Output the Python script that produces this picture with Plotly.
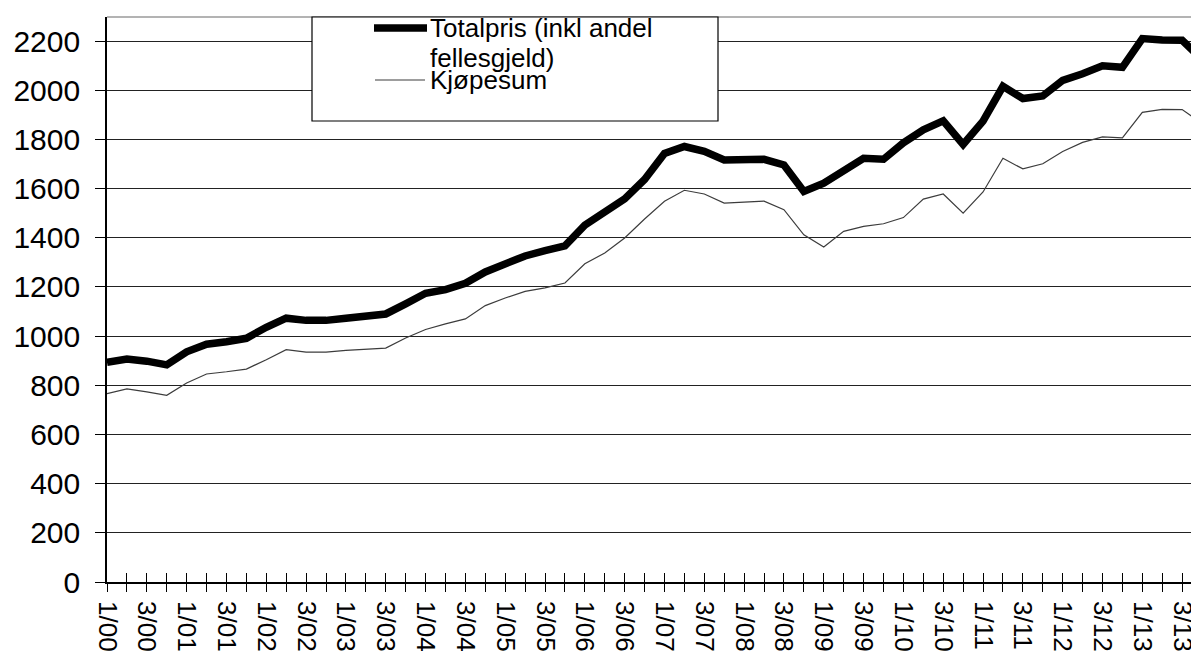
import plotly.graph_objects as go

# Quarter categories 1/00 ... 4/13
years = [f"{y:02d}" for y in range(0, 14)]
quarters = [f"{q}/{y}" for y in years for q in (1, 2, 3, 4)]

totalpris = [893, 907, 898, 883, 936, 967, 977, 991, 1036, 1073, 1064, 1064,
             1073, 1079, 1090, 1131, 1174, 1189, 1215, 1261, 1296, 1326, 1348, 1367,
             1451, 1509, 1558, 1637, 1743, 1771, 1751, 1716, 1719, 1719, 1696, 1588,
             1622, 1673, 1723, 1719, 1786, 1839, 1875, 1779, 1874, 2016, 1966, 1977,
             2040, 2067, 2099, 2093, 2210, 2204, 2203, 2126]
kjopesum = [766, 785, 773, 759, 809, 846, 855, 866, 904, 945, 935, 935,
            942, 946, 951, 992, 1027, 1050, 1070, 1124, 1155, 1182, 1196, 1216,
            1294, 1338, 1399, 1476, 1548, 1593, 1578, 1541, 1544, 1549, 1514, 1412,
            1362, 1426, 1446, 1457, 1482, 1557, 1578, 1500, 1586, 1723, 1680, 1701,
            1751, 1788, 1810, 1806, 1910, 1922, 1921, 1865]

series_names = ["Totalpris (inkl andel fellesgjeld)", "Kjøpesum"]
legend_lines = ["Totalpris (inkl andel", "fellesgjeld)"]
y_ticks = list(range(0, 2201, 200))

idx = list(range(len(quarters)))
ticktext = [q if i % 2 == 0 else "" for i, q in enumerate(quarters)]

W, H = 1191, 653
ML, MR, MT, MB = 107, 0, 17, 71
PW, PH = W - ML - MR, H - MT - MB
PX_PER_Q = 19.91
PX_PER_UNIT = 0.2459


def px(xp):
    return (xp - ML) / PW


def py(yp):
    return (H - MB - yp) / PH


FONT = "Liberation Sans, Arial, sans-serif"

fig = go.Figure()
fig.add_trace(go.Scatter(x=idx, y=totalpris, mode="lines", name=series_names[0],
                         line=dict(color="black", width=7.5), hoverinfo="skip"))
fig.add_trace(go.Scatter(x=idx, y=kjopesum, mode="lines", name=series_names[1],
                         line=dict(color="#3c3c3c", width=1.2), hoverinfo="skip"))
# helper trace for the overlay axis carrying the inner tick marks
fig.add_trace(go.Scatter(x=[0], y=[None], xaxis="x2", mode="lines",
                         showlegend=False, hoverinfo="skip"))

xr = [0, PW / PX_PER_Q]
fig.update_layout(
    width=W, height=H,
    margin=dict(l=ML, r=MR, t=MT, b=MB, autoexpand=False),
    paper_bgcolor="white", plot_bgcolor="white",
    showlegend=False,
    font=dict(family=FONT, color="black"),
    xaxis=dict(range=xr, tickmode="array", tickvals=idx, ticktext=ticktext,
               tickangle=90, ticks="outside", ticklen=8, tickcolor="black",
               tickwidth=1.2, showline=True, linecolor="black", linewidth=1.6,
               showgrid=False, zeroline=False, automargin=False,
               ticklabelstandoff=4, ticklabeloverflow="allow",
               tickfont=dict(size=26, family=FONT, color="black")),
    xaxis2=dict(range=xr, overlaying="x", anchor="y", side="bottom",
                tickmode="array", tickvals=idx, ticks="inside", ticklen=9,
                tickcolor="black", tickwidth=1.2, showticklabels=False,
                showline=False, showgrid=False, zeroline=False),
    yaxis=dict(range=[0, PH / PX_PER_UNIT], tickmode="array", tickvals=y_ticks,
               ticks="outside", ticklen=10, tickcolor="black", tickwidth=1.2,
               showline=True, linecolor="black", linewidth=1.6,
               showgrid=True, gridcolor="#222222", gridwidth=1,
               zeroline=False, automargin=False, ticklabelstandoff=9,
               tickfont=dict(size=30, family=FONT, color="black")),
)

shapes = [
    # top border of plot area
    dict(type="line", xref="paper", yref="paper", x0=0, x1=1, y0=1, y1=1,
         line=dict(color="#9a9a9a", width=1.5), layer="above"),
    # legend box
    dict(type="rect", xref="paper", yref="paper", x0=px(312), x1=px(718),
         y0=py(121), y1=py(17), fillcolor="white",
         line=dict(color="black", width=1.2), layer="above"),
    dict(type="line", xref="paper", yref="paper", x0=px(374), x1=px(427),
         y0=py(28), y1=py(28), line=dict(color="black", width=7.5), layer="above"),
    dict(type="line", xref="paper", yref="paper", x0=px(375), x1=px(425),
         y0=py(80), y1=py(80), line=dict(color="#3c3c3c", width=1.2), layer="above"),
]
fig.update_layout(shapes=shapes)

for text, yc in zip(legend_lines + [series_names[1]], (28, 58, 80)):
    fig.add_annotation(xref="paper", yref="paper", x=px(428), y=py(yc),
                       xanchor="left", yanchor="middle", align="left",
                       showarrow=False, text=text,
                       font=dict(size=26, family=FONT, color="black"))

fig.write_html(
    "out.html",
    config={"displayModeBar": False},
    post_script="document.body.style.margin='0';document.body.style.overflow='hidden';",
)
